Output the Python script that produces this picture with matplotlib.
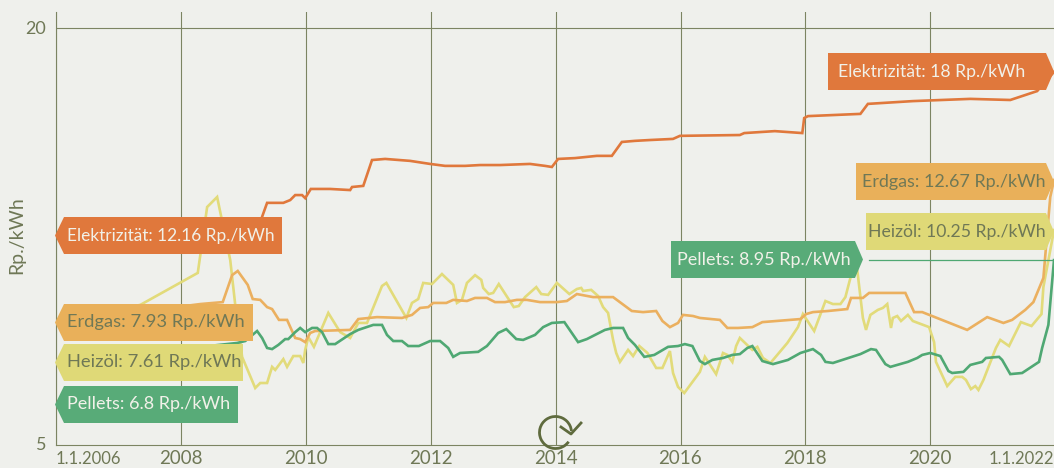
import matplotlib
matplotlib.use("Agg")
import matplotlib.pyplot as plt
from matplotlib.patches import Polygon, PathPatch
from matplotlib.lines import Line2D
from matplotlib.path import Path
from matplotlib.transforms import Affine2D

plt.rcParams['font.family'] = ['Lato', 'DejaVu Sans']

strom_jahr = [2006.00, 2009.27, 2009.38, 2009.64, 2009.75, 2009.83, 2009.94, 2009.99, 2010.08, 2010.39, 2010.71,
              2010.74, 2010.92, 2011.06, 2011.27, 2011.67, 2011.99, 2012.23, 2012.55, 2012.79, 2013.11,
              2013.59, 2013.83, 2013.94, 2014.04, 2014.31, 2014.66, 2014.90, 2015.06, 2015.27, 2015.51,
              2015.88, 2015.99, 2016.95, 2017.02, 2017.51, 2017.95, 2017.98, 2018.04, 2018.88, 2019.00,
              2019.72, 2020.64, 2021.28, 2021.71, 2021.98]
strom_wert = [12.55, 13.02, 13.71, 13.71, 13.81, 13.99, 13.99, 13.88, 14.21, 14.21, 14.17,
              14.28, 14.32, 15.25, 15.29, 15.22, 15.11, 15.04, 15.04, 15.07, 15.07,
              15.11, 15.04, 15.00, 15.29, 15.32, 15.40, 15.40, 15.90, 15.94, 15.97,
              16.01, 16.12, 16.15, 16.22, 16.29, 16.22, 16.76, 16.83, 16.91, 17.27,
              17.37, 17.45, 17.41, 17.73, 18.42]

gas_jahr = [2006.00, 2008.31, 2008.67, 2008.82, 2008.91, 2009.07, 2009.15, 2009.27, 2009.38, 2009.46,
            2009.57, 2009.70, 2009.83, 2009.91, 2009.99, 2010.07, 2010.15, 2010.71, 2010.84, 2011.14,
            2011.54, 2011.70, 2011.83, 2011.96, 2012.04, 2012.25, 2012.36, 2012.58, 2012.71, 2012.90,
            2013.03, 2013.19, 2013.38, 2013.54, 2013.75, 2014.02, 2014.18, 2014.34, 2014.60, 2014.92,
            2015.22, 2015.40, 2015.61, 2015.71, 2015.83, 2015.96, 2016.04, 2016.20, 2016.31, 2016.63,
            2016.75, 2016.92, 2017.15, 2017.31, 2017.92, 2018.01, 2018.12, 2018.36, 2018.67, 2018.73,
            2018.92, 2019.02, 2019.60, 2019.74, 2019.87, 2020.59, 2020.91, 2021.17, 2021.31, 2021.52,
            2021.65, 2021.81, 2021.92, 2021.98]
gas_wert = [9.41, 10.07, 10.14, 11.11, 11.26, 10.76, 10.25, 10.22, 9.96, 9.89,
            9.50, 9.50, 8.85, 8.81, 8.70, 9.03, 9.10, 9.14, 9.53, 9.60,
            9.57, 9.68, 9.93, 9.96, 10.11, 10.11, 10.22, 10.18, 10.29, 10.29,
            10.14, 10.14, 10.22, 10.22, 10.14, 10.14, 10.18, 10.43, 10.32, 10.32,
            9.82, 9.78, 9.82, 9.46, 9.24, 9.39, 9.68, 9.64, 9.57, 9.50,
            9.21, 9.21, 9.24, 9.42, 9.53, 9.71, 9.78, 9.82, 9.89, 10.29,
            10.29, 10.47, 10.47, 9.78, 9.78, 9.14, 9.60, 9.39, 9.50, 9.86,
            10.14, 11.01, 13.92, 14.53]

oel_jahr = [2006.00, 2007.35, 2008.27, 2008.42, 2008.58, 2008.79, 2008.87, 2008.98, 2009.19, 2009.27,
            2009.38, 2009.46, 2009.51, 2009.64, 2009.70, 2009.80, 2009.91, 2009.96, 2009.99, 2010.04,
            2010.13, 2010.36, 2010.55, 2010.71, 2010.84, 2010.98, 2011.22, 2011.29, 2011.61, 2011.70,
            2011.80, 2011.88, 2012.02, 2012.18, 2012.36, 2012.42, 2012.50, 2012.58, 2012.71, 2012.81,
            2012.84, 2012.93, 2013.00, 2013.09, 2013.33, 2013.41, 2013.51, 2013.69, 2013.77, 2013.88,
            2014.02, 2014.22, 2014.34, 2014.41, 2014.44, 2014.57, 2014.68, 2014.76, 2014.84, 2014.92,
            2014.97, 2015.03, 2015.16, 2015.24, 2015.34, 2015.47, 2015.61, 2015.71, 2015.83, 2015.88,
            2015.96, 2016.06, 2016.31, 2016.39, 2016.57, 2016.68, 2016.75, 2016.83, 2016.89, 2016.95,
            2017.15, 2017.23, 2017.32, 2017.44, 2017.71, 2017.88, 2017.96, 2018.14, 2018.32, 2018.44,
            2018.56, 2018.64, 2018.72, 2018.76, 2018.83, 2018.88, 2018.92, 2018.97, 2019.04, 2019.16,
            2019.24, 2019.31, 2019.37, 2019.40, 2019.47, 2019.53, 2019.64, 2019.72, 2019.98, 2020.06,
            2020.09, 2020.27, 2020.40, 2020.51, 2020.57, 2020.65, 2020.72, 2020.77, 2020.85, 2021.05,
            2021.12, 2021.26, 2021.45, 2021.62, 2021.78, 2021.81, 2021.92, 2021.98]
oel_wert = [9.41, 10.04, 11.19, 13.56, 13.92, 11.65, 10.04, 8.17, 7.05, 7.23,
            7.23, 7.81, 7.70, 8.09, 7.81, 8.20, 8.20, 7.95, 8.42, 8.88,
            8.53, 9.75, 9.06, 8.85, 9.39, 9.39, 10.72, 10.83, 9.57, 10.11,
            10.25, 10.83, 10.79, 11.15, 10.76, 10.11, 10.22, 10.83, 11.11, 10.94,
            10.65, 10.43, 10.47, 10.79, 9.96, 10.00, 10.32, 10.68, 10.43, 10.40,
            10.83, 10.43, 10.61, 10.65, 10.54, 10.58, 10.36, 9.96, 9.75, 8.78,
            8.31, 7.99, 8.42, 8.20, 8.56, 8.31, 7.77, 7.77, 8.38, 7.59,
            7.09, 6.87, 7.63, 8.17, 7.55, 8.31, 8.24, 7.99, 8.56, 8.85,
            8.42, 8.53, 8.13, 7.95, 8.67, 9.24, 9.71, 9.10, 10.18, 10.07,
            10.07, 10.32, 11.01, 11.58, 11.29, 10.32, 9.57, 9.14, 9.68, 9.86,
            9.93, 10.07, 9.21, 9.57, 9.64, 9.46, 9.68, 9.46, 9.24, 8.70,
            7.99, 7.12, 7.45, 7.45, 7.34, 7.01, 7.12, 6.98, 7.34, 8.49,
            8.78, 8.56, 9.42, 9.28, 9.71, 10.68, 12.01, 12.73]

pellets_jahr = [2006.00, 2008.90, 2009.03, 2009.22, 2009.30, 2009.38, 2009.46, 2009.56, 2009.67, 2009.72,
                2009.83, 2009.91, 2009.99, 2010.10, 2010.18, 2010.26, 2010.36, 2010.47, 2010.71, 2010.84,
                2011.08, 2011.22, 2011.30, 2011.40, 2011.54, 2011.64, 2011.81, 2011.99, 2012.15, 2012.28,
                2012.36, 2012.47, 2012.76, 2012.90, 2013.08, 2013.21, 2013.37, 2013.48, 2013.67, 2013.80,
                2013.94, 2014.14, 2014.36, 2014.50, 2014.79, 2014.92, 2015.08, 2015.16, 2015.27, 2015.42,
                2015.58, 2015.80, 2015.96, 2016.07, 2016.19, 2016.31, 2016.39, 2016.51, 2016.68, 2016.83,
                2016.95, 2017.07, 2017.15, 2017.31, 2017.48, 2017.72, 2017.92, 2018.12, 2018.25, 2018.32,
                2018.44, 2018.88, 2019.05, 2019.13, 2019.28, 2019.36, 2019.64, 2019.79, 2019.87, 2020.00,
                2020.16, 2020.29, 2020.35, 2020.53, 2020.64, 2020.83, 2020.89, 2021.10, 2021.15, 2021.28,
                2021.47, 2021.74, 2021.79, 2021.89, 2021.98]
pellets_wert = [7.97, 8.67, 8.74, 9.10, 8.85, 8.49, 8.45, 8.60, 8.81, 8.81,
                9.06, 9.21, 9.06, 9.21, 9.21, 9.06, 8.63, 8.63, 8.99, 9.14,
                9.32, 9.32, 8.96, 8.74, 8.74, 8.56, 8.56, 8.74, 8.74, 8.49,
                8.17, 8.31, 8.35, 8.56, 9.03, 9.17, 8.81, 8.78, 8.96, 9.24,
                9.39, 9.42, 8.70, 8.81, 9.14, 9.21, 9.21, 8.85, 8.60, 8.17,
                8.24, 8.53, 8.56, 8.63, 8.56, 8.02, 7.91, 8.06, 8.13, 8.24,
                8.27, 8.49, 8.56, 8.02, 7.91, 8.06, 8.31, 8.45, 8.24, 7.99,
                7.95, 8.27, 8.45, 8.42, 7.91, 7.81, 7.99, 8.13, 8.24, 8.31,
                8.20, 7.66, 7.59, 7.63, 7.88, 7.99, 8.13, 8.17, 8.06, 7.55,
                7.59, 7.99, 8.49, 9.32, 11.65]

jahre = [2006, 2008, 2010, 2012, 2014, 2016, 2018, 2020, 2022]
jahr_labels = ["1.1.2006", "2008", "2010", "2012", "2014", "2016", "2018", "2020", "1.1.2022"]

bg = "#EFF0EC"
grid = "#7C8462"
text_col = "#6F7856"
hell = "#F1F1E9"
c_strom = "#E0783C"
c_gas = "#E9B05A"
c_oel = "#DFD977"
c_pellets = "#58AB78"

fig = plt.figure(figsize=(10.54, 4.68), dpi=100, facecolor=bg)
ax = fig.add_axes([56 / 1054, 23 / 468, 998 / 1054, 433 / 468], facecolor=bg)

ax.plot(oel_jahr, oel_wert, color="#E2DB7A", lw=1.9, zorder=3, solid_joinstyle="miter")
ax.plot(gas_jahr, gas_wert, color="#EBB05F", lw=1.9, zorder=4, solid_joinstyle="miter")
ax.plot(pellets_jahr, pellets_wert, color="#4FA873", lw=1.9, zorder=5, solid_joinstyle="miter")
ax.plot(strom_jahr, strom_wert, color=c_strom, lw=1.9, zorder=6, solid_joinstyle="miter")

ax.set_xlim(2006, 2021.98)
ax.set_ylim(5, 20.575)
ax.set_xticks(jahre[:-1])
ax.set_xticklabels([])
ax.set_yticks([5, 20])
ax.set_yticklabels([])
ax.tick_params(length=0)
ax.grid(axis="x", color=grid, lw=0.8, zorder=1)
ax.axhline(20, color=grid, lw=0.8, zorder=1)
for s in ["top", "right"]:
    ax.spines[s].set_visible(False)
for s in ["left", "bottom"]:
    ax.spines[s].set_color(grid)
    ax.spines[s].set_linewidth(0.8)

# alles weitere in Pixeln vom oberen Rand aus
px = Affine2D().scale(1, -1).translate(0, 468)


def txt(x, y, s, size=13, **kw):
    fig.text(x, y, s, transform=px, color=text_col, fontsize=size, va="center", **kw)


def label_links(rechts, oben, unten, farbe, s, col, size):
    m = (oben + unten) / 2
    pts = [(55, m), (64, oben), (rechts, oben), (rechts, unten), (64, unten)]
    fig.add_artist(Polygon(pts, closed=True, transform=px, fc=farbe, ec="none", zorder=10))
    fig.text(67, m, s, transform=px, color=col, fontsize=size, va="center", zorder=11)


def label_rechts(links, spitze, oben, unten, farbe, s, col, text_x, size):
    m = (oben + unten) / 2
    pts = [(links, oben), (spitze - 8, oben), (spitze, m), (spitze - 8, unten), (links, unten)]
    fig.add_artist(Polygon(pts, closed=True, transform=px, fc=farbe, ec="none", zorder=10))
    fig.text(text_x, m, s, transform=px, color=col, fontsize=size, va="center", zorder=11)


label_links(282, 217, 254, c_strom, "Elektrizität: 12.16 Rp./kWh", hell, 12.4)
label_links(253, 304, 341, c_gas, "Erdgas: 7.93 Rp./kWh", text_col, 13.2)
label_links(243, 344, 381, c_oel, "Heizöl: 7.61 Rp./kWh", text_col, 13.2)
label_links(238, 386, 423, c_pellets, "Pellets: 6.8 Rp./kWh", hell, 13)

label_rechts(828, 1054, 53, 90, c_strom, "Elektrizität: 18 Rp./kWh", hell, 838, 12.7)
label_rechts(856, 1054, 163, 200, c_gas, "Erdgas: 12.67 Rp./kWh", text_col, 862, 12.9)
label_rechts(866, 1054, 213, 250, c_oel, "Heizöl: 10.25 Rp./kWh", text_col, 868, 12.7)
label_rechts(671, 863, 241, 278, c_pellets, "Pellets: 8.95 Rp./kWh", hell, 677, 13)
fig.add_artist(Line2D([869, 1053], [259.5, 259.5], transform=px, color="#4FA873", lw=0.9, zorder=9))

# Achsentexte
txt(46, 28.5, "20", ha="right")
txt(46, 445, "5", ha="right")
txt(17, 235, "Rp./kWh", ha="center", rotation=90, size=14)
for j, l in zip(jahre, jahr_labels):
    x = 56 + (j - 2006) * 62.44
    if l == "1.1.2006":
        txt(56, 459, l, ha="left", size=12)
    elif l == "1.1.2022":
        txt(1054, 459, l, ha="right", size=12)
    else:
        txt(x, 459, l, ha="center", size=13.5)

# Replay-Symbol
kreis = Path.arc(5, 325)
fig.add_artist(PathPatch(kreis, transform=Affine2D().scale(16, -16).translate(555.5, 432.5) + px,
                         fc="none", ec="#5F6B3E", lw=2, zorder=12))
fig.add_artist(Line2D([561, 571, 581], [427, 434, 423], transform=px, color="#5F6B3E", lw=2, zorder=12))

fig.savefig("out.png", dpi=100, facecolor=bg)
